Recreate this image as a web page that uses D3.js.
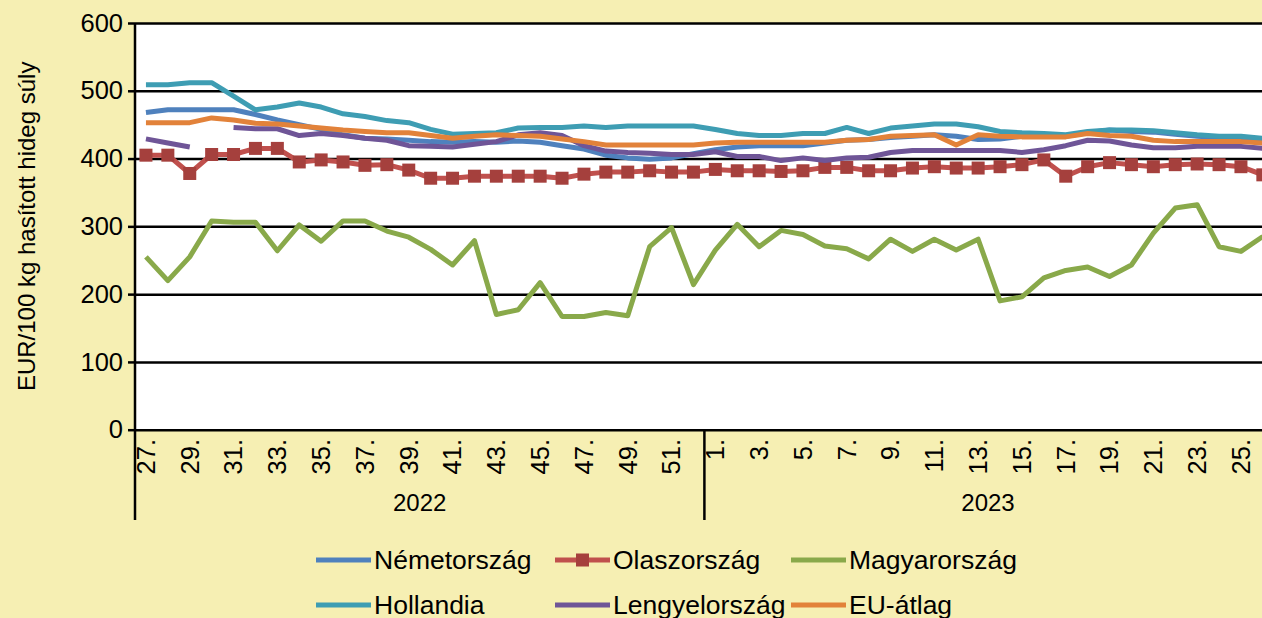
<!DOCTYPE html>
<html>
<head>
<meta charset="utf-8">
<script src="https://cdn.jsdelivr.net/npm/d3@7"></script>
<style>
  body { margin: 0; background: #f6efb3; }
  svg { display: block; font-family: "Liberation Sans", Arial, sans-serif; }
</style>
</head>
<body>
<svg id="chart"></svg>
<script>
// weeks: 2022 w27-w52, 2023 w1-w26
const weeks2022 = [27,28,29,30,31,32,33,34,35,36,37,38,39,40,41,42,43,44,45,46,47,48,49,50,51,52];
const weeks2023 = [1,2,3,4,5,6,7,8,9,10,11,12,13,14,15,16,17,18,19,20,21,22,23,24,25,26];
const years = ['2022', '2023'];
const yTicks = [0, 100, 200, 300, 400, 500, 600];

const germany = [468,472,472,472,472,465,457,450,443,435,430,429,427,425,424,425,424,426,424,419,414,405,401,399,401,407,
                 413,417,419,419,419,423,427,428,431,433,435,433,428,429,433,434,433,438,442,440,439,436,433,431,429,426];
const italy = [405,405,378,406,406,415,415,395,398,395,390,391,383,371,371,374,374,374,374,371,377,380,380,382,380,380,
               384,382,382,381,382,387,387,382,382,386,388,386,386,388,391,398,374,388,394,391,388,391,392,391,388,376];
const hungary = [255,220,255,308,306,306,264,302,278,308,308,293,284,266,243,279,170,177,217,167,167,173,168,270,298,214,
                 265,303,270,294,288,271,267,252,281,263,281,265,281,190,196,224,235,240,226,243,290,327,332,270,263,285];
const netherlands = [509,509,512,512,492,472,476,482,476,466,462,456,453,443,436,437,438,445,446,446,448,446,448,448,448,448,
                     443,437,434,434,437,437,446,437,445,448,451,451,447,440,438,437,435,440,442,442,441,438,435,433,433,430];
const poland = [429,423,417,null,446,444,444,434,437,434,430,427,419,418,417,421,425,435,438,434,419,411,409,408,406,406,
                410,403,403,397,401,397,401,402,409,412,412,412,412,412,409,413,419,427,426,420,416,416,418,418,418,415];
const euAvg = [453,453,453,460,457,452,451,448,445,442,440,438,438,434,430,433,435,434,433,429,425,420,420,420,420,420,
               423,424,424,424,424,424,427,428,433,434,435,420,435,433,432,432,432,437,434,433,427,425,425,425,425,423];

const series = [
  {name: 'Németország', values: germany, color: '#4f81bd'},
  {name: 'Olaszország', values: italy, color: '#c0504d', marker: '#a5403d'},
  {name: 'Magyarország', values: hungary, color: '#89a94a'},
  {name: 'Hollandia', values: netherlands, color: '#3e9db3'},
  {name: 'Lengyelország', values: poland, color: '#6f5597'},
  {name: 'EU-átlag', values: euAvg, color: '#e2823a'}
];

const width = 1262, height = 618;
const margin = {top: 23, left: 135, bottom: 188};
const step = 21.9;

const cats = weeks2022.map(w => '2022-' + w).concat(weeks2023.map(w => '2023-' + w));
const labelOf = c => c.split('-')[1] + '.';

const svg = d3.select('#chart').attr('width', width).attr('height', height);

const x = d3.scaleBand()
  .domain(cats)
  .range([margin.left, margin.left + cats.length * step])
  .padding(0);
const y = d3.scaleLinear()
  .domain([0, 600])
  .range([height - margin.bottom - 0.3, margin.top]);

// plot area
svg.append('rect')
  .attr('x', margin.left).attr('y', y(600))
  .attr('width', x.range()[1] - margin.left).attr('height', y(0) - y(600))
  .attr('fill', 'white');

// grid lines + y axis
svg.append('g')
  .attr('transform', `translate(${margin.left},0)`)
  .call(d3.axisLeft(y).tickValues(yTicks).tickSize(7).tickPadding(5))
  .call(g => g.select('.domain').remove())
  .call(g => g.selectAll('.tick line').attr('stroke', '#000').attr('stroke-width', 2.5))
  .call(g => g.selectAll('.tick text')
    .attr('fill', '#000').style('font-size', '25.5px').attr('font-family', null))
  .call(g => g.selectAll('.tick').append('line')
    .attr('x1', 0).attr('x2', width)
    .attr('stroke', '#000').attr('stroke-width', 2.5));

svg.append('line')
  .attr('x1', margin.left).attr('x2', margin.left)
  .attr('y1', y(600)).attr('y2', y(0))
  .attr('stroke', '#000').attr('stroke-width', 2.5);

// x axis labels (every other week)
const xg = svg.append('g');
xg.selectAll('text')
  .data(cats.filter((c, i) => i % 2 === 0))
  .join('text')
    .attr('transform', d => `translate(${x(d) + x.bandwidth() / 2},439) rotate(-90)`)
    .attr('text-anchor', 'end')
    .attr('dy', '0.35em')
    .style('font-size', '25.5px')
    .text(labelOf);

// year separators
const sepX = [margin.left, x('2023-1')];
svg.selectAll('.sep')
  .data(sepX)
  .join('line')
    .attr('class', 'sep')
    .attr('x1', d => d).attr('x2', d => d)
    .attr('y1', y(0)).attr('y2', 520)
    .attr('stroke', '#000').attr('stroke-width', 2.5);

svg.selectAll('.year')
  .data(years)
  .join('text')
    .attr('class', 'year')
    .attr('x', (d, i) => i === 0 ? (x('2022-27') + x('2022-52') + step) / 2 : 988)
    .attr('y', 511)
    .attr('text-anchor', 'middle')
    .style('font-size', '24px')
    .text(d => d);

// y title
svg.append('text')
  .attr('transform', `translate(35,${(y(0) + y(600)) / 2}) rotate(-90)`)
  .attr('text-anchor', 'middle')
  .style('font-size', '24px')
  .text('EUR/100 kg hasított hideg súly');

// lines
const line = d3.line()
  .defined(d => d != null)
  .x((d, i) => x(cats[i]) + x.bandwidth() / 2)
  .y(d => y(d));

const plot = svg.append('g');
series.forEach(s => {
  plot.append('path')
    .attr('d', line(s.values))
    .attr('fill', 'none')
    .attr('stroke', s.color)
    .attr('stroke-width', 5)
    .attr('stroke-linejoin', 'round');
  if (s.marker) {
    plot.selectAll(null)
      .data(s.values)
      .join('rect')
        .attr('x', (d, i) => x(cats[i]) + x.bandwidth() / 2 - 6.5)
        .attr('y', d => y(d) - 6.5)
        .attr('width', 13).attr('height', 13)
        .attr('fill', s.marker);
  }
});

// legend
const legend = svg.append('g');
const legX = [316, 555, 791];
const legY = [560, 605];
series.forEach((s, i) => {
  const lx = legX[i % 3], ly = legY[Math.floor(i / 3)];
  const g = legend.append('g').attr('transform', `translate(${lx},${ly})`);
  g.append('line')
    .attr('x1', 0).attr('x2', 55)
    .attr('stroke', s.color).attr('stroke-width', 5);
  if (s.marker) {
    g.append('rect').attr('x', 21).attr('y', -6.5).attr('width', 13).attr('height', 13).attr('fill', s.marker);
  }
  g.append('text')
    .attr('x', 58).attr('dy', '0.35em')
    .style('font-size', '26.5px')
    .text(s.name);
});
</script>
</body>
</html>
